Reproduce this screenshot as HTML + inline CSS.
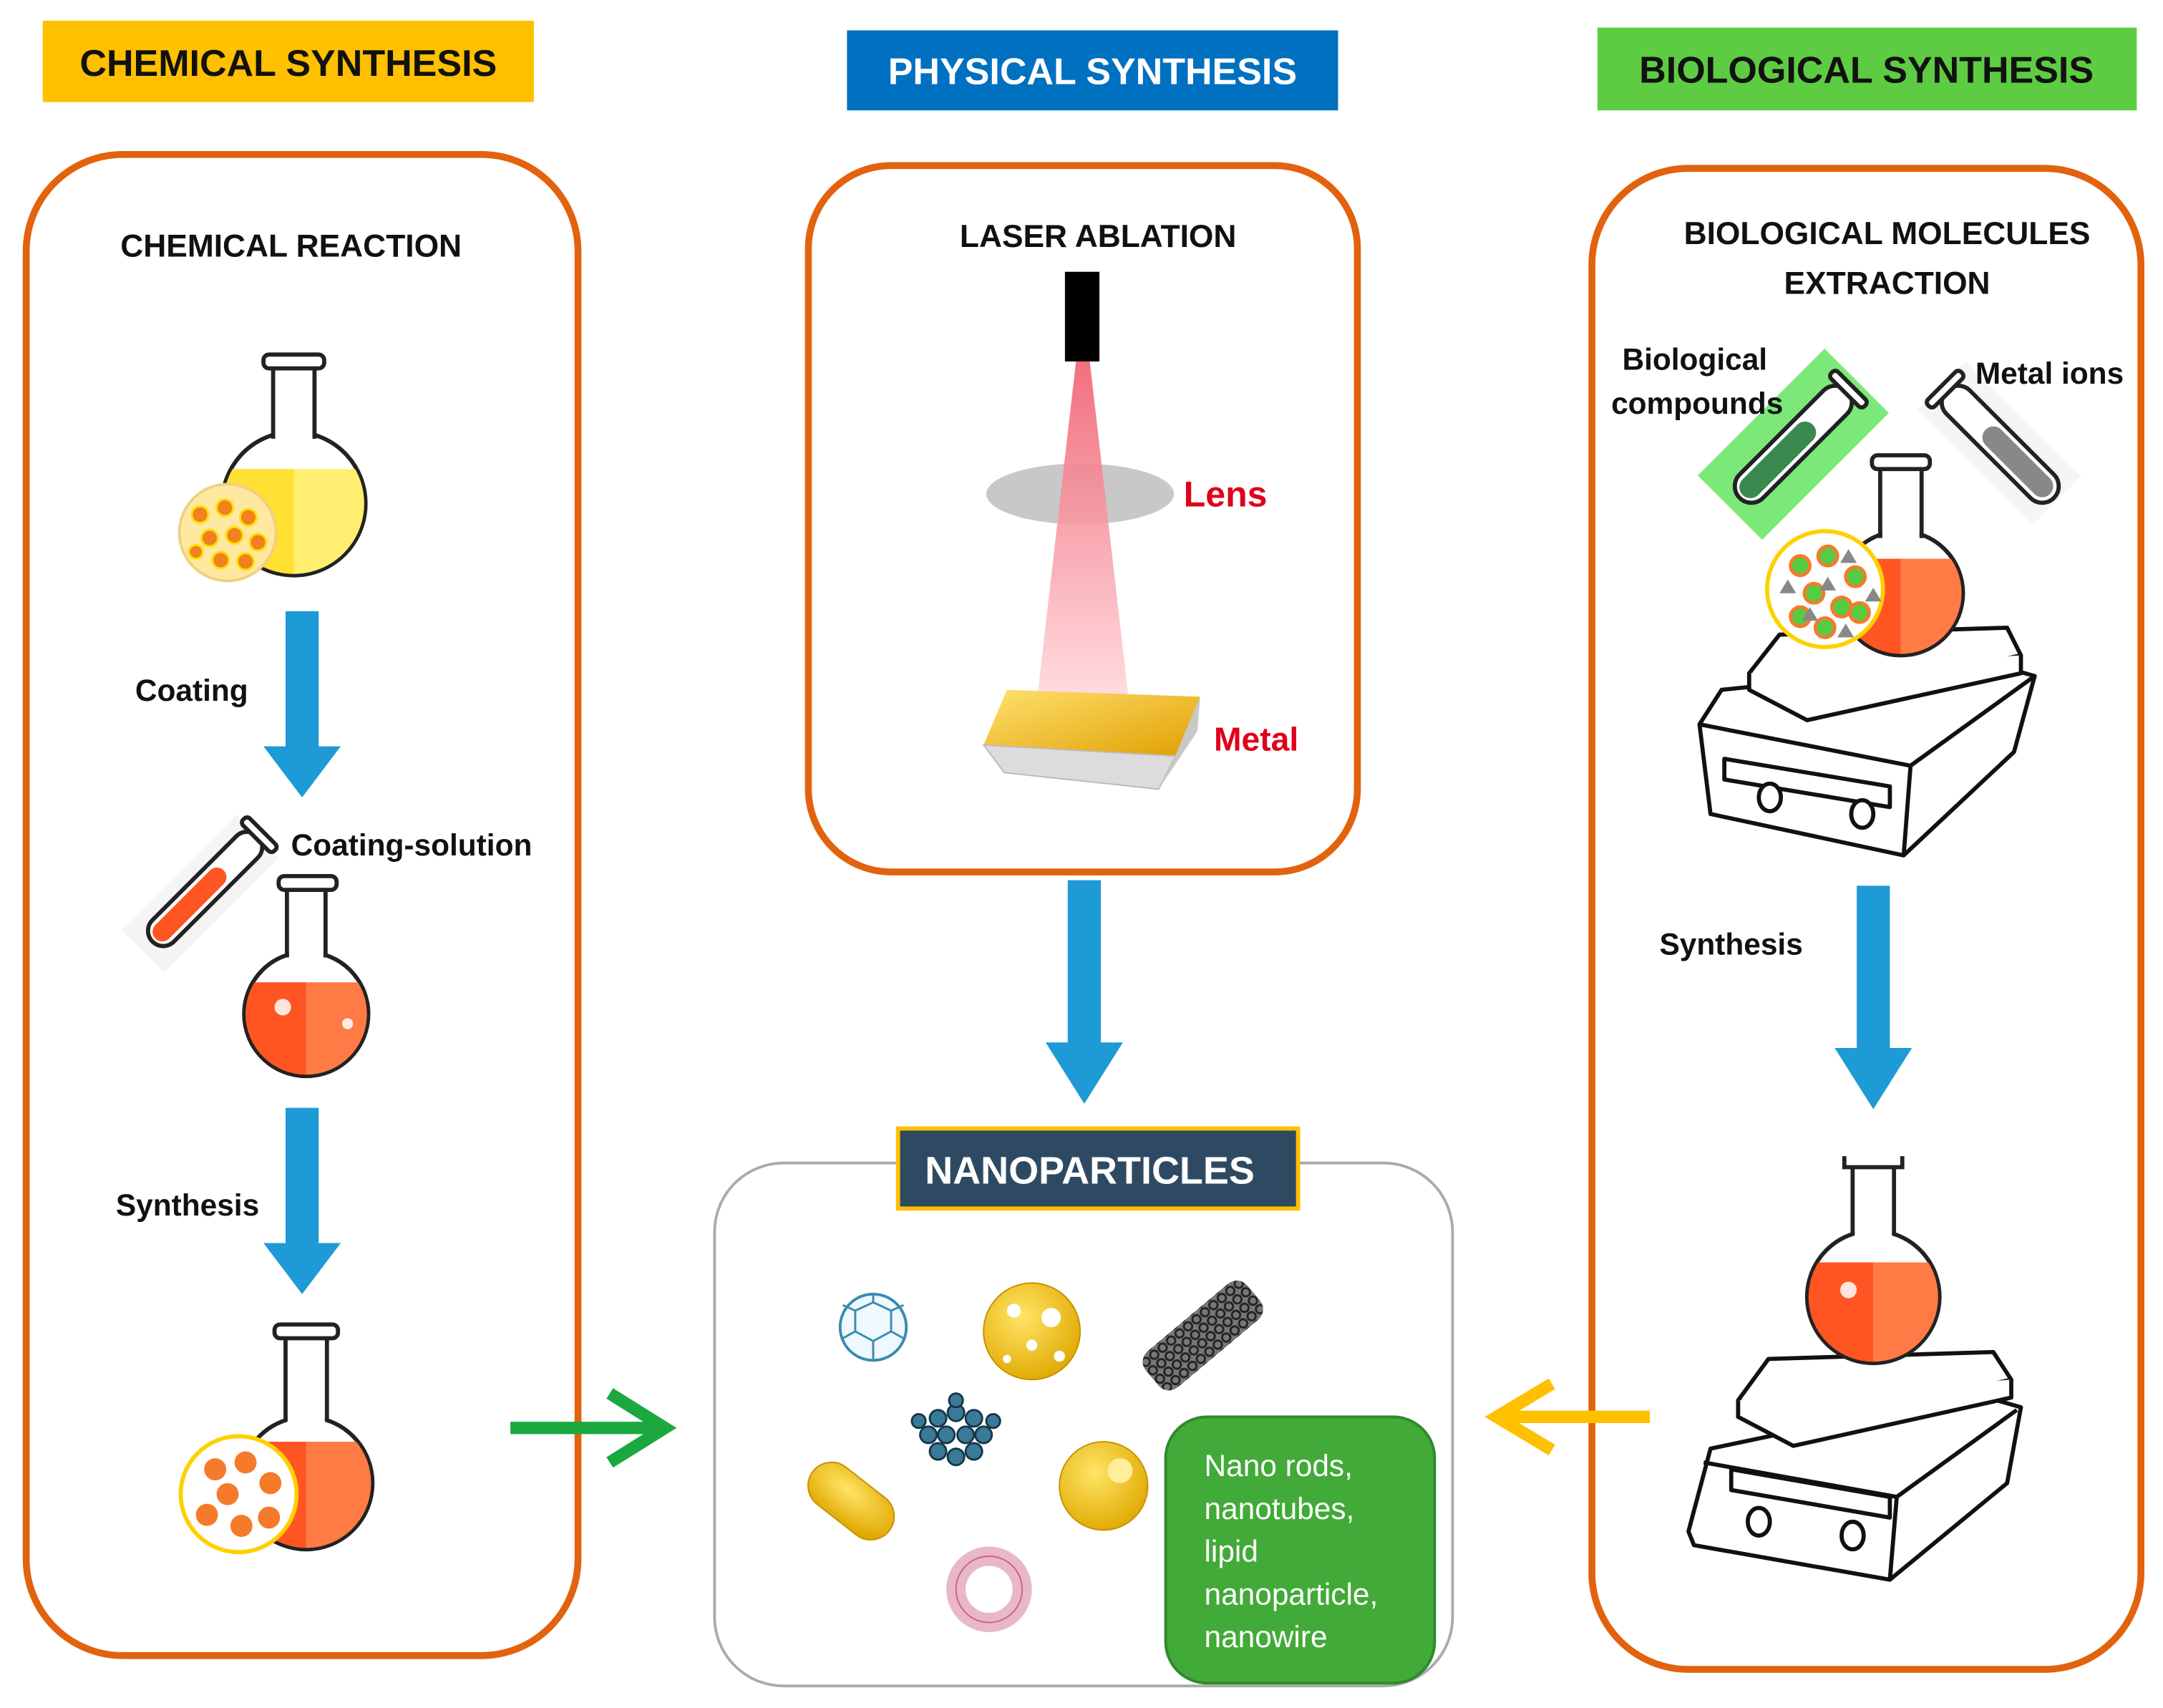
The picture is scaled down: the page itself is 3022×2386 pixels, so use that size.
<!DOCTYPE html>
<html><head><meta charset="utf-8"><style>
html,body{margin:0;padding:0;background:#fff;}
svg{display:block;}
text{font-family:"Liberation Sans",sans-serif;}
</style></head><body>
<svg width="3022" height="2386" viewBox="0 0 1568 1238" xmlns="http://www.w3.org/2000/svg">
<defs>
<linearGradient id="beam" x1="0" y1="0" x2="0" y2="1"><stop offset="0" stop-color="#f06070"/><stop offset="1" stop-color="#ffd8dc"/></linearGradient>
<linearGradient id="gold" x1="0" y1="0" x2="1" y2="1"><stop offset="0" stop-color="#ffe070"/><stop offset="1" stop-color="#e0a000"/></linearGradient>
<radialGradient id="ball" cx="0.4" cy="0.35" r="0.7"><stop offset="0" stop-color="#ffe566"/><stop offset="1" stop-color="#e0a800"/></radialGradient>
<g id="darrow"><rect x="-12" y="0" width="24" height="100" fill="#1E9AD6"/><polygon points="-28,98 28,98 0,135" fill="#1E9AD6"/></g>
<clipPath id="c1"><circle cx="213" cy="365" r="51"/></clipPath>
<clipPath id="c2"><circle cx="222" cy="735" r="44"/></clipPath>
<clipPath id="c3"><circle cx="222" cy="1075" r="47"/></clipPath>
<clipPath id="c4"><circle cx="1378" cy="430" r="44"/></clipPath>
<clipPath id="c5"><circle cx="1358" cy="940" r="47"/></clipPath>
</defs>

<!-- headers -->
<rect x="31" y="15" width="356" height="59" fill="#FFC000"/>
<text x="209" y="55" font-size="27" font-weight="bold" text-anchor="middle" fill="#111">CHEMICAL SYNTHESIS</text>
<rect x="614" y="22" width="356" height="58" fill="#0070C0"/>
<text x="792" y="61" font-size="27" font-weight="bold" text-anchor="middle" fill="#fff">PHYSICAL SYNTHESIS</text>
<rect x="1158" y="20" width="391" height="60" fill="#5DCC42"/>
<text x="1353" y="60" font-size="27" font-weight="bold" text-anchor="middle" fill="#111">BIOLOGICAL SYNTHESIS</text>

<!-- orange boxes -->
<rect x="19" y="112" width="400" height="1088" rx="70" fill="none" stroke="#E2620E" stroke-width="5"/>
<rect x="586" y="120" width="398" height="512" rx="60" fill="none" stroke="#E2620E" stroke-width="5"/>
<rect x="1154" y="122" width="398" height="1088" rx="70" fill="none" stroke="#E2620E" stroke-width="5"/>

<!-- left column -->
<text x="211" y="186" font-size="23" font-weight="bold" text-anchor="middle" fill="#111">CHEMICAL REACTION</text>
<!-- flask 1 -->
<circle cx="213" cy="365" r="52" fill="#fff" stroke="#222" stroke-width="3"/>
<g clip-path="url(#c1)"><rect x="160" y="340" width="53" height="80" fill="#FFE033"/><rect x="213" y="340" width="53" height="80" fill="#FFEE70"/></g>
<rect x="199.5" y="262" width="27" height="60" fill="#fff"/>
<line x1="198" y1="267" x2="198" y2="318" stroke="#222" stroke-width="3"/><line x1="228" y1="267" x2="228" y2="318" stroke="#222" stroke-width="3"/>
<rect x="191" y="257" width="44" height="10" rx="4" fill="#fff" stroke="#222" stroke-width="3"/>
<circle cx="165" cy="386" r="35" fill="#FFE8A0" stroke="#f0d080" stroke-width="2"/>
<g fill="#F08020" stroke="#ffe000" stroke-width="1.5">
<circle cx="145" cy="373" r="6"/><circle cx="163" cy="368" r="6"/><circle cx="180" cy="375" r="6"/><circle cx="152" cy="390" r="6"/><circle cx="170" cy="388" r="6"/><circle cx="187" cy="393" r="6"/><circle cx="160" cy="406" r="6"/><circle cx="178" cy="407" r="6"/><circle cx="142" cy="400" r="5"/>
</g>
<use href="#darrow" x="219" y="443"/>
<text x="98" y="508" font-size="22" font-weight="bold" fill="#111">Coating</text>
<!-- test tube -->
<g transform="translate(148,645) rotate(45)">
<rect x="-22" y="-55" width="44" height="118" fill="#eee" opacity="0.6"/>
<rect x="-11" y="-55" width="22" height="108" rx="11" fill="#fff" stroke="#222" stroke-width="3"/>
<rect x="-7" y="-20" width="14" height="70" rx="7" fill="#FF5522"/>
<rect x="-16" y="-60" width="32" height="7" rx="3" fill="#fff" stroke="#222" stroke-width="3"/>
</g>
<text x="211" y="620" font-size="22" font-weight="bold" fill="#111">Coating-solution</text>
<!-- flask 2 -->
<circle cx="222" cy="735" r="45" fill="#fff" stroke="#222" stroke-width="3"/>
<g clip-path="url(#c2)"><rect x="176" y="712" width="46" height="80" fill="#FF5522"/><rect x="222" y="712" width="46" height="80" fill="#FF7A45"/></g>
<rect x="209.5" y="640" width="25" height="58" fill="#fff"/>
<line x1="208" y1="645" x2="208" y2="694" stroke="#222" stroke-width="3"/><line x1="236" y1="645" x2="236" y2="694" stroke="#222" stroke-width="3"/>
<rect x="202" y="635" width="42" height="10" rx="4" fill="#fff" stroke="#222" stroke-width="3"/>
<circle cx="205" cy="730" r="6" fill="#fff" opacity="0.85"/><circle cx="252" cy="742" r="4" fill="#fff" opacity="0.85"/>
<use href="#darrow" x="219" y="803"/>
<text x="84" y="881" font-size="22" font-weight="bold" fill="#111">Synthesis</text>
<!-- flask 3 -->
<circle cx="222" cy="1075" r="48" fill="#fff" stroke="#222" stroke-width="3"/>
<g clip-path="url(#c3)"><rect x="174" y="1045" width="48" height="80" fill="#FF5522"/><rect x="222" y="1045" width="48" height="80" fill="#FF7A45"/></g>
<rect x="208.5" y="966" width="27" height="66" fill="#fff"/>
<line x1="207" y1="970" x2="207" y2="1030" stroke="#222" stroke-width="3"/><line x1="237" y1="970" x2="237" y2="1030" stroke="#222" stroke-width="3"/>
<rect x="199" y="960" width="46" height="10" rx="4" fill="#fff" stroke="#222" stroke-width="3"/>
<circle cx="173" cy="1083" r="42" fill="#fff" stroke="#FFD000" stroke-width="3"/>
<g fill="#F57A2A">
<circle cx="156" cy="1065" r="8"/><circle cx="178" cy="1060" r="8"/><circle cx="196" cy="1075" r="8"/><circle cx="165" cy="1083" r="8"/><circle cx="150" cy="1098" r="8"/><circle cx="175" cy="1106" r="8"/><circle cx="195" cy="1100" r="8"/>
</g>
<!-- green arrow -->
<line x1="370" y1="1035" x2="480" y2="1035" stroke="#1BA83F" stroke-width="9"/>
<polyline points="442,1010 482,1035 442,1060" fill="none" stroke="#1BA83F" stroke-width="9"/>

<!-- physical -->
<text x="796" y="179" font-size="23" font-weight="bold" text-anchor="middle" fill="#111">LASER ABLATION</text>
<rect x="772" y="197" width="25" height="65" fill="#000"/>
<ellipse cx="783" cy="358" rx="68" ry="22" fill="#c8c8c8"/>
<polygon points="780,262 790,262 818,505 752,505" fill="url(#beam)" opacity="0.9"/>
<text x="858" y="367" font-size="26" font-weight="bold" fill="#E0001A">Lens</text>
<polygon points="713,540 730,500 870,505 852,548" fill="url(#gold)"/>
<polygon points="713,540 852,548 840,572 728,560" fill="#dcdcdc" stroke="#bbb"/>
<polygon points="852,548 870,505 868,530 840,572" fill="#c8c8c8"/>
<text x="880" y="544" font-size="24" font-weight="bold" fill="#E0001A">Metal</text>
<g transform="translate(786,638) scale(1,1.2) translate(-786,-638)"><use href="#darrow" x="786" y="638"/></g>

<!-- nanoparticles -->
<rect x="518" y="843" width="535" height="379" rx="50" fill="none" stroke="#aaa" stroke-width="2"/>
<rect x="651" y="818" width="290" height="58" fill="#2E4A62" stroke="#FFC000" stroke-width="3"/>
<text x="790" y="858" font-size="28" font-weight="bold" text-anchor="middle" fill="#fff">NANOPARTICLES</text>
<circle cx="633" cy="962" r="24" fill="#eef8ff" stroke="#3a8ab0" stroke-width="2"/>
<path d="M620 950 L633 944 L646 950 L646 965 L633 972 L620 965 Z M633 944 L633 938 M646 950 L655 946 M646 965 L655 970 M633 972 L633 985 M620 965 L611 970 M620 950 L611 946" fill="none" stroke="#3a8ab0" stroke-width="1.5"/>
<circle cx="748" cy="965" r="35" fill="url(#ball)" stroke="#c89000"/>
<circle cx="735" cy="950" r="5" fill="#fff"/><circle cx="762" cy="955" r="7" fill="#fff"/><circle cx="748" cy="975" r="4" fill="#fff"/><circle cx="730" cy="985" r="3" fill="#fff"/><circle cx="768" cy="983" r="4" fill="#fff"/>
<g transform="translate(872,968) rotate(-40)">
<rect x="-48" y="-17" width="96" height="34" rx="10" fill="#777"/>
<pattern id="hx" width="8" height="8" patternUnits="userSpaceOnUse"><circle cx="4" cy="4" r="3" fill="none" stroke="#222" stroke-width="1.5"/></pattern>
<rect x="-48" y="-17" width="96" height="34" rx="10" fill="url(#hx)"/>
</g>
<g fill="#3a7a99" stroke="#143848" stroke-width="1.5">
<circle cx="680" cy="1028" r="6"/><circle cx="693" cy="1024" r="6"/><circle cx="706" cy="1028" r="6"/><circle cx="673" cy="1040" r="6"/><circle cx="686" cy="1040" r="6"/><circle cx="700" cy="1040" r="6"/><circle cx="713" cy="1040" r="6"/><circle cx="680" cy="1052" r="6"/><circle cx="693" cy="1056" r="6"/><circle cx="706" cy="1052" r="6"/><circle cx="693" cy="1015" r="5"/><circle cx="720" cy="1030" r="5"/><circle cx="666" cy="1030" r="5"/>
</g>
<g transform="translate(617,1088) rotate(38)"><rect x="-35" y="-17" width="70" height="34" rx="17" fill="url(#ball)" stroke="#c89000"/></g>
<circle cx="800" cy="1077" r="32" fill="url(#ball)" stroke="#c89000"/>
<circle cx="812" cy="1066" r="9" fill="#ffef9a"/>
<circle cx="717" cy="1152" r="24" fill="none" stroke="#e8b8c8" stroke-width="14"/>
<circle cx="717" cy="1152" r="24" fill="none" stroke="#d06080" stroke-width="1"/>
<rect x="845" y="1027" width="195" height="193" rx="30" fill="#42AA38" stroke="#2f8a2a" stroke-width="2"/>
<g font-size="22" fill="#fff"><text x="873" y="1070">Nano rods,</text><text x="873" y="1101">nanotubes,</text><text x="873" y="1132">lipid</text><text x="873" y="1163">nanoparticle,</text><text x="873" y="1194">nanowire</text></g>

<!-- yellow arrow -->
<line x1="1196" y1="1027" x2="1090" y2="1027" stroke="#FFC000" stroke-width="9"/>
<polyline points="1125,1003 1085,1027 1125,1051" fill="none" stroke="#FFC000" stroke-width="9"/>

<!-- biological -->
<text x="1368" y="177" font-size="23" font-weight="bold" text-anchor="middle" fill="#111">BIOLOGICAL MOLECULES</text>
<text x="1368" y="213" font-size="23" font-weight="bold" text-anchor="middle" fill="#111">EXTRACTION</text>
<g transform="translate(1300,322) rotate(45)">
<rect x="-33" y="-65" width="66" height="130" fill="#7de87a"/>
<rect x="-12" y="-55" width="24" height="110" rx="12" fill="#fff" stroke="#222" stroke-width="3"/>
<rect x="-8" y="-20" width="16" height="72" rx="8" fill="#3a8a50"/>
<rect x="-17" y="-60" width="34" height="7" rx="3" fill="#fff" stroke="#222" stroke-width="3"/>
</g>
<g transform="translate(1450,322) rotate(-45)">
<rect x="-25" y="-60" width="50" height="118" fill="#eee" opacity="0.6"/>
<rect x="-12" y="-55" width="24" height="110" rx="12" fill="#fff" stroke="#222" stroke-width="3"/>
<rect x="-8" y="-15" width="16" height="66" rx="8" fill="#888"/>
<rect x="-17" y="-60" width="34" height="7" rx="3" fill="#fff" stroke="#222" stroke-width="3"/>
</g>
<text x="1176" y="268" font-size="22" font-weight="bold" fill="#111">Biological</text>
<text x="1168" y="300" font-size="22" font-weight="bold" fill="#111">compounds</text>
<text x="1432" y="278" font-size="22" font-weight="bold" fill="#111">Metal ions</text>
<!-- hot plate top -->
<g fill="#fff" stroke="#111" stroke-width="3" stroke-linejoin="round">
<path d="M1232 525 L1248 500 L1440 480 L1475 490 L1460 545 L1380 620 L1240 590 Z"/>
<path d="M1232 525 L1385 555 L1475 490"/>
<path d="M1385 555 L1380 620"/>
<path d="M1268 488 L1290 460 L1455 455 L1465 475 L1310 510 Z"/>
<path d="M1268 488 L1268 500 L1310 522 L1465 488 L1465 475"/>
<path d="M1250 550 L1370 570 L1370 585 L1250 565 Z"/>
<ellipse cx="1283" cy="578" rx="8" ry="10"/><ellipse cx="1350" cy="590" rx="8" ry="10"/>
</g>
<!-- flask right top -->
<circle cx="1378" cy="430" r="45" fill="#fff" stroke="#222" stroke-width="3"/>
<g clip-path="url(#c4)"><rect x="1333" y="405" width="45" height="80" fill="#FF5522"/><rect x="1378" y="405" width="45" height="80" fill="#FF7A45"/></g>
<rect x="1364.5" y="336" width="27" height="56" fill="#fff"/>
<line x1="1363" y1="340" x2="1363" y2="390" stroke="#222" stroke-width="3"/><line x1="1393" y1="340" x2="1393" y2="390" stroke="#222" stroke-width="3"/>
<rect x="1357" y="330" width="42" height="10" rx="4" fill="#fff" stroke="#222" stroke-width="3"/>
<circle cx="1323" cy="427" r="42" fill="#fff" stroke="#FFD000" stroke-width="3"/>
<g fill="#55CC44" stroke="#F57A2A" stroke-width="2.5">
<circle cx="1305" cy="410" r="7"/><circle cx="1325" cy="403" r="7"/><circle cx="1345" cy="418" r="7"/><circle cx="1315" cy="430" r="7"/><circle cx="1335" cy="440" r="7"/><circle cx="1305" cy="447" r="7"/><circle cx="1323" cy="455" r="7"/><circle cx="1348" cy="444" r="7"/>
</g>
<g fill="#888"><polygon points="1340,398 1346,408 1334,408"/><polygon points="1296,420 1302,430 1290,430"/><polygon points="1325,418 1331,428 1319,428"/><polygon points="1358,426 1364,436 1352,436"/><polygon points="1312,440 1318,450 1306,450"/><polygon points="1338,452 1344,462 1332,462"/></g>
<text x="1203" y="692" font-size="22" font-weight="bold" fill="#111">Synthesis</text>
<g transform="translate(1358,642) scale(1,1.2) translate(-1358,-642)"><use href="#darrow" x="1358" y="642"/></g>
<!-- hot plate bottom -->
<g fill="#fff" stroke="#111" stroke-width="3" stroke-linejoin="round">
<path d="M1224 1110 L1240 1050 L1430 1010 L1465 1020 L1455 1075 L1370 1145 L1228 1120 Z"/>
<path d="M1235 1060 L1375 1085 L1462 1022"/>
<path d="M1375 1085 L1370 1145"/>
<path d="M1260 1015 L1282 985 L1445 980 L1458 1000 L1300 1035 Z"/>
<path d="M1260 1015 L1260 1027 L1300 1048 L1458 1013 L1458 1000"/>
<path d="M1255 1065 L1370 1085 L1370 1100 L1255 1080 Z"/>
<ellipse cx="1275" cy="1103" rx="8" ry="10"/><ellipse cx="1343" cy="1113" rx="8" ry="10"/>
</g>
<!-- flask right bottom -->
<circle cx="1358" cy="940" r="48" fill="#fff" stroke="#222" stroke-width="3"/>
<g clip-path="url(#c5)"><rect x="1310" y="915" width="48" height="80" fill="#FF5522"/><rect x="1358" y="915" width="48" height="80" fill="#FF7A45"/></g>
<rect x="1344.5" y="844" width="27" height="52" fill="#fff"/>
<line x1="1343" y1="846" x2="1343" y2="895" stroke="#222" stroke-width="3"/><line x1="1373" y1="846" x2="1373" y2="895" stroke="#222" stroke-width="3"/>
<path d="M1337 838 L1337 846 L1379 846 L1379 838" fill="none" stroke="#222" stroke-width="3"/>
<circle cx="1340" cy="935" r="6" fill="#fff" opacity="0.85"/>
</svg>
</body></html>
